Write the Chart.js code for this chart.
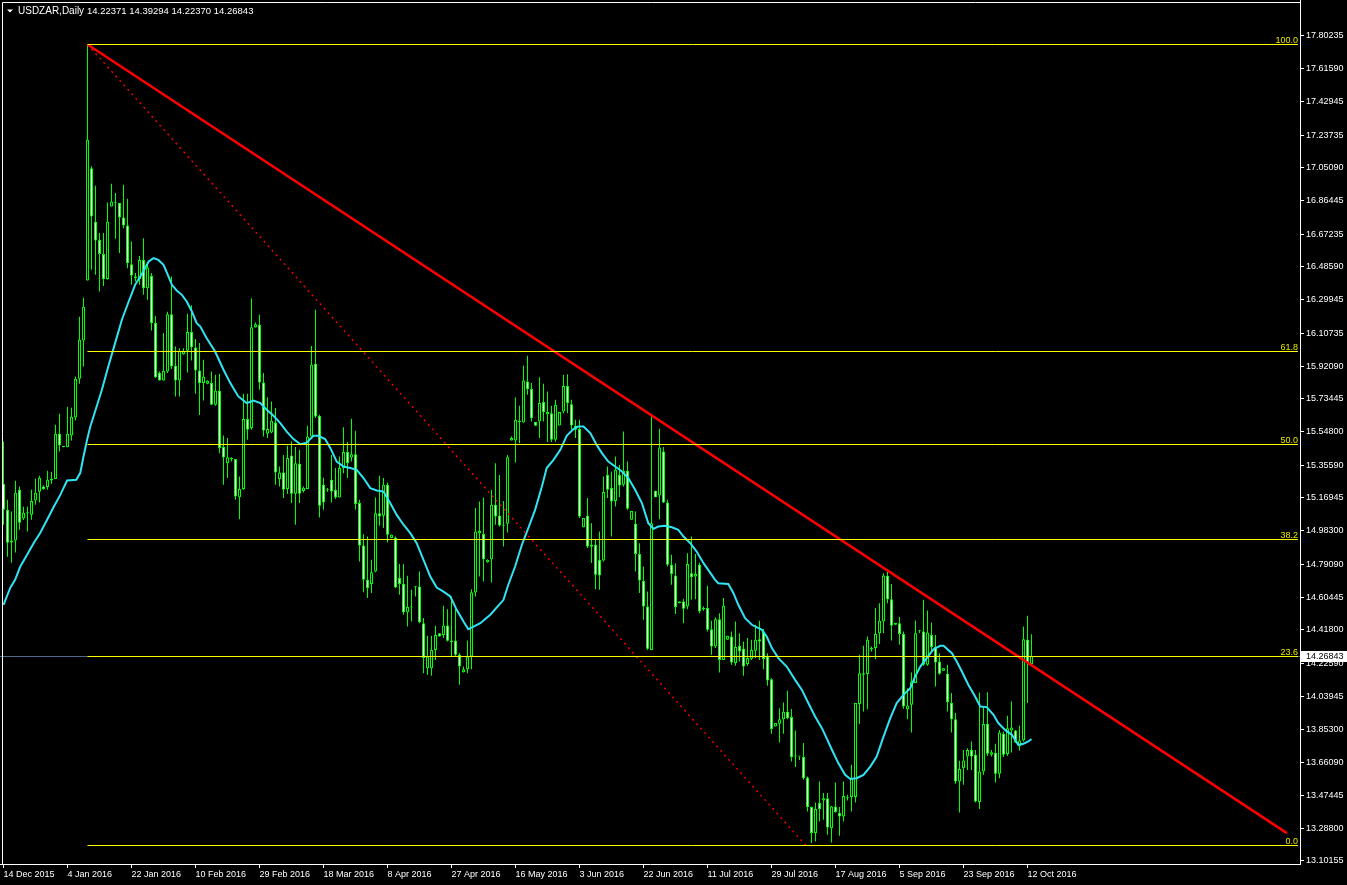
<!DOCTYPE html>
<html>
<head>
<meta charset="utf-8">
<title>USDZAR,Daily</title>
<script src="https://cdn.jsdelivr.net/npm/chart.js@4.4.1/dist/chart.umd.min.js"></script>
<style>
  html, body { margin: 0; padding: 0; background: #000; }
  #wrap { position: relative; width: 1347px; height: 885px; }
</style>
</head>
<body>
<div id="wrap"><canvas id="chart"></canvas></div>
<script>
// daily bars, one label every 16 bars
const tickBars = [0, 16, 32, 48, 64, 80, 96, 112, 128, 144, 160, 176, 192, 208, 224, 240, 256];
const tickDates = ['14 Dec 2015', '4 Jan 2016', '22 Jan 2016', '10 Feb 2016', '29 Feb 2016', '18 Mar 2016',
  '8 Apr 2016', '27 Apr 2016', '16 May 2016', '3 Jun 2016', '22 Jun 2016', '11 Jul 2016', '29 Jul 2016',
  '17 Aug 2016', '5 Sep 2016', '23 Sep 2016', '12 Oct 2016'];

const priceTicks = [17.80235, 17.61590, 17.42945, 17.23735, 17.05090, 16.86445, 16.67235, 16.48590, 16.29945,
  16.10735, 15.92090, 15.73445, 15.54800, 15.35590, 15.16945, 14.98300, 14.79090, 14.60445, 14.41800,
  14.22590, 14.03945, 13.85300, 13.66090, 13.47445, 13.28800, 13.10155];

const openP = [
  15.250,15.102,14.916,14.927,15.216,15.052,15.083,15.074,15.155,15.205,
  15.235,15.232,15.269,15.277,15.535,15.460,15.458,15.525,15.628,15.849,
  16.067,16.409,17.049,16.744,16.640,16.559,16.417,16.830,16.851,16.850,
  16.767,16.722,16.502,16.422,16.417,16.526,16.365,16.435,16.166,15.881,
  15.839,15.890,16.217,15.923,15.839,15.989,16.008,16.115,16.027,15.896,
  15.824,15.820,15.824,15.701,15.781,15.460,15.368,15.391,15.391,15.174,
  15.220,15.619,15.568,16.143,16.156,15.827,15.535,15.542,15.599,15.277,
  15.314,15.220,15.412,15.193,15.365,15.209,15.220,15.520,15.934,15.638,
  15.245,15.218,15.273,15.216,15.172,15.340,15.431,15.400,15.419,15.141,
  14.899,14.703,14.679,14.751,15.083,15.068,15.245,14.941,14.944,14.713,
  14.679,14.519,14.548,14.665,14.665,14.456,14.200,14.200,14.304,14.399,
  14.389,14.443,14.348,14.356,14.276,14.177,14.194,14.266,14.631,14.969,
  14.964,14.804,14.821,15.131,15.068,15.013,15.023,15.497,15.497,15.605,
  15.599,15.833,15.790,15.602,15.605,15.716,15.647,15.653,15.501,15.582,
  15.662,15.808,15.704,15.581,15.562,15.003,15.068,14.903,14.903,14.817,
  14.813,15.301,15.226,15.153,15.301,15.245,15.324,15.045,15.023,14.850,
  14.697,14.551,14.304,15.210,15.183,15.435,15.144,14.789,14.728,14.570,
  14.580,14.551,14.741,14.722,14.789,14.539,14.542,14.422,14.323,14.479,
  14.247,14.361,14.380,14.229,14.327,14.310,14.223,14.253,14.299,14.365,
  14.409,14.266,14.137,13.867,13.883,13.909,13.951,13.921,13.698,13.696,
  13.693,13.577,13.408,13.260,13.431,13.446,13.459,13.288,13.411,13.374,
  13.355,13.460,13.465,13.465,13.995,14.162,14.166,14.311,14.314,14.399,
  14.466,14.726,14.593,14.447,14.456,14.395,13.966,13.991,14.115,14.413,
  14.409,14.219,14.389,14.320,14.238,14.185,14.168,14.001,13.909,13.554,
  13.630,13.696,13.734,13.706,13.437,13.611,13.881,13.706,13.716,13.598,
  13.826,13.710,13.845,13.845,13.753,13.787,14.361,14.22371
];
const highP = [
  15.491,15.159,15.092,15.267,15.235,15.120,15.121,15.216,15.279,15.296,
  15.241,15.324,15.319,15.587,15.649,15.462,15.689,15.683,15.862,16.202,
  16.310,17.753,17.060,16.948,16.679,16.679,16.853,16.960,16.907,16.850,
  16.954,16.874,16.631,16.451,16.549,16.650,16.498,16.451,16.207,15.890,
  16.109,16.230,16.431,16.032,16.023,16.023,16.219,16.268,16.075,16.052,
  15.957,15.840,15.890,15.871,15.877,15.525,15.511,15.402,15.391,15.292,
  15.763,15.763,16.308,16.169,16.213,15.881,15.744,15.719,15.682,15.349,
  15.415,15.467,15.491,15.460,15.444,15.235,15.581,16.036,16.242,15.644,
  15.285,15.227,15.415,15.340,15.406,15.573,15.489,15.621,15.552,15.159,
  14.963,14.950,14.817,15.172,15.296,15.283,15.258,14.962,14.950,14.794,
  14.794,14.726,14.646,14.667,14.751,14.485,14.384,14.384,14.441,14.400,
  14.555,14.536,14.608,14.542,14.285,14.209,14.357,14.650,15.113,15.149,
  15.172,14.820,15.216,15.368,15.301,15.153,15.415,15.520,15.742,15.695,
  15.923,15.980,15.824,15.602,15.858,15.820,15.776,15.695,15.729,15.659,
  15.871,15.875,15.729,15.615,15.615,15.055,15.169,15.026,14.931,14.978,
  15.292,15.349,15.320,15.406,15.358,15.548,15.377,15.096,15.092,14.912,
  14.779,14.636,15.649,15.210,15.564,15.460,15.159,14.846,14.798,14.580,
  14.595,14.855,14.950,14.851,14.802,14.551,14.669,14.470,14.488,14.513,
  14.599,14.384,14.409,14.466,14.399,14.352,14.371,14.361,14.447,14.470,
  14.423,14.285,14.143,13.887,13.972,14.004,14.071,13.967,13.845,13.698,
  13.773,13.582,13.412,13.434,13.554,13.488,13.488,13.415,13.548,13.408,
  13.554,13.478,13.649,14.001,14.276,14.327,14.380,14.323,14.542,14.570,
  14.741,14.756,14.680,14.457,14.491,14.409,14.086,14.175,14.471,14.416,
  14.589,14.528,14.460,14.389,14.285,14.200,14.219,14.058,13.944,13.672,
  13.734,13.744,13.782,13.734,14.061,13.981,14.063,13.734,13.769,13.848,
  13.839,13.928,14.010,13.848,13.871,14.437,14.498,14.39294
];
const lowP = [
  15.017,14.834,14.800,14.859,14.988,15.044,14.979,15.045,15.131,15.144,
  15.216,15.216,15.250,15.277,15.435,15.458,15.458,15.497,15.611,15.820,
  15.919,16.409,16.470,16.441,16.346,16.378,16.413,16.830,16.646,16.565,
  16.707,16.479,16.384,16.403,16.384,16.327,16.299,16.124,15.853,15.839,
  15.839,15.881,15.904,15.748,15.748,15.985,15.884,15.953,15.763,15.643,
  15.725,15.818,15.701,15.695,15.425,15.245,15.283,15.377,15.159,15.049,
  15.216,15.501,15.558,16.139,15.786,15.520,15.511,15.539,15.245,15.235,
  15.169,15.193,15.141,15.017,15.141,15.201,15.220,15.505,15.625,15.058,
  15.102,15.205,15.144,15.163,15.172,15.311,15.283,15.377,15.102,14.808,
  14.633,14.599,14.628,14.747,15.011,14.998,14.916,14.940,14.656,14.618,
  14.504,14.437,14.466,14.608,14.456,14.171,14.162,14.156,14.247,14.380,
  14.371,14.352,14.266,14.266,14.105,14.175,14.171,14.194,14.608,14.722,
  14.694,14.800,14.688,15.017,15.007,14.893,14.973,15.497,15.372,15.482,
  15.599,15.757,15.605,15.581,15.511,15.605,15.488,15.488,15.490,15.582,
  15.653,15.653,15.558,15.511,15.055,15.003,14.884,14.799,14.650,14.646,
  14.808,15.169,14.950,15.121,15.174,15.235,15.102,15.045,14.751,14.628,
  14.475,14.304,14.304,15.174,15.049,15.141,14.779,14.675,14.509,14.570,
  14.456,14.536,14.589,14.593,14.513,14.527,14.409,14.276,14.314,14.175,
  14.247,14.361,14.219,14.213,14.238,14.156,14.213,14.247,14.257,14.247,
  14.194,14.099,13.826,13.867,13.776,13.826,13.909,13.668,13.636,13.677,
  13.564,13.383,13.203,13.212,13.326,13.336,13.250,13.206,13.377,13.245,
  13.326,13.446,13.383,13.434,13.881,13.953,13.966,14.295,14.251,14.338,
  14.399,14.570,14.357,14.447,14.333,13.968,13.909,13.833,14.115,14.400,
  14.213,14.213,14.289,14.095,14.162,14.185,13.953,13.833,13.541,13.377,
  13.535,13.620,13.620,13.434,13.397,13.592,13.700,13.696,13.548,13.573,
  13.693,13.700,13.719,13.773,13.730,13.782,14.001,14.22370
];
const closeP = [
  15.102,14.914,14.927,15.199,15.028,15.085,15.087,15.153,15.199,15.285,
  15.220,15.273,15.279,15.535,15.469,15.460,15.535,15.632,15.849,16.071,
  16.259,17.210,16.773,16.636,16.559,16.417,16.744,16.859,16.849,16.767,
  16.722,16.508,16.437,16.431,16.526,16.365,16.483,16.166,15.858,15.839,
  15.894,16.217,15.919,15.839,16.008,16.008,16.115,16.029,15.896,15.824,
  15.862,15.837,15.701,15.781,15.454,15.400,15.402,15.397,15.178,15.220,
  15.619,15.558,16.143,16.160,15.827,15.554,15.562,15.609,15.314,15.314,
  15.216,15.397,15.193,15.368,15.193,15.228,15.520,15.928,15.634,15.125,
  15.144,15.214,15.206,15.172,15.340,15.431,15.368,15.419,15.135,14.899,
  14.703,14.656,14.747,15.083,15.064,15.245,14.960,14.960,14.659,14.679,
  14.519,14.548,14.546,14.663,14.462,14.257,14.266,14.304,14.389,14.380,
  14.443,14.356,14.357,14.276,14.209,14.194,14.266,14.633,14.978,14.982,
  14.821,14.817,15.131,15.064,15.013,15.011,15.402,15.511,15.615,15.603,
  15.839,15.790,15.624,15.581,15.710,15.659,15.659,15.501,15.701,15.659,
  15.808,15.710,15.582,15.558,15.064,15.055,14.893,14.891,14.732,14.728,
  15.203,15.216,15.149,15.330,15.241,15.324,15.108,15.096,14.850,14.699,
  14.551,14.310,15.026,15.174,15.457,15.144,14.789,14.736,14.548,14.580,
  14.538,14.793,14.719,14.736,14.523,14.537,14.418,14.323,14.479,14.247,
  14.555,14.384,14.232,14.320,14.295,14.209,14.257,14.304,14.361,14.352,
  14.252,14.129,13.853,13.887,13.909,13.951,13.915,13.693,13.696,13.698,
  13.573,13.408,13.260,13.397,13.397,13.459,13.292,13.411,13.380,13.355,
  13.472,13.458,13.573,14.001,14.171,14.171,14.361,14.309,14.395,14.470,
  14.728,14.593,14.441,14.457,14.395,13.981,13.987,14.124,14.399,14.414,
  14.219,14.403,14.320,14.232,14.168,14.200,14.006,13.909,13.554,13.625,
  13.674,13.734,13.696,13.440,13.611,13.881,13.712,13.721,13.598,13.833,
  13.706,13.858,13.862,13.776,13.787,14.365,14.229,14.26843
];

// moving average (cyan) at these bar positions
const maBars = [0,1.7,2.9,4.2,5.9,7.6,9.2,10.9,12.6,14.2,15.9,18.2,19.2,20,20.9,21.7,22.5,24.6,26.2,27.9,
  29.6,31.3,32.9,34.6,36.3,37.5,38.7,40,40.9,42.1,43.3,44.6,45.8,47.1,48.3,49.2,50.8,52.9,55,56.7,
  58.7,60.8,62.5,64.2,65.8,67.5,69.2,70.8,72.5,74.2,75.8,77.5,78.7,80.4,81.7,83.3,85,86.7,88.3,90,
  91.7,93.3,95,96.7,98.3,100,101.7,103.3,105,106.7,108.3,110,111.7,113.3,115,116.2,117.5,119.2,121.7,125,
  126.2,127.9,129.6,131.2,132.9,134.6,135.8,137.5,139.2,140.8,142.5,143.7,145,146.7,148.3,149.6,151.2,152.9,154.6,156.2,
  157.9,159.6,161.2,162.5,163.7,165.4,167.1,168.7,170,171.7,173.3,175,176.7,177.9,178.7,181.2,182.5,183.7,185.4,187.1,
  189.6,190.8,192.1,193.7,195.8,197.9,199.6,201.2,202.9,204.6,205.4,207.1,208.7,210.4,211.7,213.3,215,216.7,218.3,220,
  221.7,223.3,225,226.7,227.9,229.2,230.8,232.5,234.2,235,237.1,238.3,239.6,241.2,242.9,244.2,245.8,247.5,248.7,250.4,
  252.1,253.7,255,256.2,257];
const maVals = [14.561,14.658,14.703,14.779,14.846,14.914,14.971,15.045,15.121,15.187,15.269,15.273,15.313,15.406,15.501,15.577,15.634,15.786,15.919,16.052,
  16.185,16.289,16.384,16.447,16.517,16.536,16.526,16.498,16.451,16.384,16.352,16.327,16.289,16.232,16.166,16.146,16.080,16.004,15.900,15.824,
  15.748,15.710,15.725,15.710,15.672,15.638,15.596,15.548,15.505,15.476,15.485,15.524,15.524,15.505,15.455,15.377,15.349,15.340,15.330,15.283,
  15.226,15.212,15.206,15.140,15.073,15.017,14.969,14.912,14.817,14.722,14.659,14.636,14.608,14.532,14.466,14.422,14.437,14.456,14.504,14.589,
  14.675,14.779,14.903,14.998,15.102,15.235,15.340,15.387,15.444,15.524,15.562,15.577,15.577,15.539,15.472,15.425,15.377,15.349,15.320,15.283,
  15.216,15.140,15.026,14.994,15.007,15.011,15.003,14.988,14.950,14.912,14.864,14.798,14.743,14.703,14.684,14.680,14.627,14.561,14.485,14.447,
  14.418,14.380,14.314,14.257,14.209,14.133,14.076,14.001,13.924,13.858,13.820,13.735,13.659,13.592,13.568,13.573,13.592,13.639,13.696,13.810,
  13.915,14.001,14.048,14.086,14.152,14.209,14.257,14.308,14.327,14.327,14.285,14.238,14.181,14.105,14.038,13.981,13.978,13.934,13.887,13.848,
  13.820,13.763,13.769,13.782,13.796];

// fibonacci retracement drawn from the January high
const fibLevels = [17.7534, 16.0041, 15.4742, 14.9329, 14.2662, 13.1893];
const fibNames = ['100.0', '61.8', '50.0', '38.2', '23.6', '0.0'];
const fibStart = 21;
const fibEnd = 323.6;

const trendBars = [21, 320.85];
const trendVals = [17.7534, 13.260];
const fibDiagBars = [21, 200.6];
const fibDiagVals = [17.7534, 13.1893];

const bidPrice = 14.26843;
const symbolText = 'USDZAR,Daily';
const quoteText = '14.22371 14.39294 14.22370 14.26843';

const FONT = '"Liberation Sans", Arial, sans-serif';

const bars = openP.map((o, i) => i);
const wickData = bars.map(i => ({ x: i, y: [lowP[i], highP[i]] }));
const bodyData = bars.map(i => ({ x: i, y: [openP[i], closeP[i]] }));
const bodyFill = bars.map(i => closeP[i] >= openP[i] ? '#000000' : '#ffffff');

function lineSet(xs, ys, color, width, dash){
  return {
    type: 'line',
    data: xs.map((x, i) => ({ x: x, y: ys[i] })),
    borderColor: color,
    borderWidth: width,
    borderDash: dash || [],
    pointRadius: 0,
    tension: 0,
    order: 0
  };
}

// horizontal lines snapped to whole pixels so they stay sharp
function hLine(ctx, x1, x2, y, color){
  const py = Math.round(y) + 0.5;
  ctx.strokeStyle = color;
  ctx.lineWidth = 1;
  ctx.beginPath();
  ctx.moveTo(x1, py);
  ctx.lineTo(x2, py);
  ctx.stroke();
}

const overlay = {
  id: 'overlay',
  beforeDatasetsDraw(chart){
    const { ctx, chartArea, scales } = chart;
    ctx.save();
    hLine(ctx, chartArea.left, chartArea.right, scales.y.getPixelForValue(bidPrice) - 0.5, '#4f6a8f');
    ctx.restore();
  },
  afterDatasetsDraw(chart){
    const { ctx, scales } = chart;
    const x1 = scales.x.getPixelForValue(fibStart);
    const x2 = scales.x.getPixelForValue(fibEnd);
    ctx.save();
    fibLevels.forEach(v => hLine(ctx, x1, x2, scales.y.getPixelForValue(v) - 0.5, '#ffff00'));
    ctx.restore();
  },
  afterDraw(chart){
    const { ctx, chartArea, scales } = chart;
    ctx.save();

    // frame
    ctx.strokeStyle = '#ffffff';
    ctx.lineWidth = 1;
    ctx.beginPath();
    ctx.moveTo(2.5, chartArea.bottom);
    ctx.lineTo(2.5, 2.5);
    ctx.lineTo(chartArea.right, 2.5);
    ctx.stroke();

    // fibo level names
    ctx.font = '9px ' + FONT;
    ctx.fillStyle = '#e6e600';
    ctx.textAlign = 'right';
    ctx.textBaseline = 'alphabetic';
    const fx = scales.x.getPixelForValue(fibEnd);
    fibLevels.forEach((v, i) => {
      ctx.fillText(fibNames[i], fx, Math.round(scales.y.getPixelForValue(v)) - 2);
    });

    // current price box
    const by = Math.round(scales.y.getPixelForValue(bidPrice));
    ctx.fillStyle = '#ffffff';
    ctx.fillRect(chartArea.right + 1, by - 5, 46, 11);
    ctx.fillStyle = '#000000';
    ctx.textAlign = 'left';
    ctx.textBaseline = 'middle';
    ctx.fillText(bidPrice.toFixed(5), chartArea.right + 6, by + 0.5);

    // title
    ctx.fillStyle = '#ffffff';
    ctx.beginPath();
    ctx.moveTo(7, 9.5);
    ctx.lineTo(13, 9.5);
    ctx.lineTo(10, 12.5);
    ctx.closePath();
    ctx.fill();
    ctx.font = '10px ' + FONT;
    ctx.textBaseline = 'alphabetic';
    ctx.fillText(symbolText, 18, 14);
    ctx.font = '9.5px ' + FONT;
    ctx.fillText(quoteText, 87, 14);

    ctx.restore();
  }
};

new Chart(document.getElementById('chart'), {
  type: 'bar',
  data: {
    datasets: [
      lineSet(trendBars, trendVals, '#ff0000', 2.5),
      lineSet(fibDiagBars, fibDiagVals, '#ff0000', 1.4, [2, 4]),
      lineSet(maBars, maVals, '#30e4f4', 2),
      {
        type: 'bar',
        data: bodyData,
        backgroundColor: bodyFill,
        borderColor: '#00ff00',
        borderWidth: 1,
        borderSkipped: false,
        barThickness: 3,
        minBarLength: 1,
        inflateAmount: 0,
        grouped: false,
        order: 1
      },
      {
        type: 'bar',
        data: wickData,
        backgroundColor: '#00ff00',
        borderWidth: 0,
        barThickness: 1,
        minBarLength: 1,
        inflateAmount: 0,
        grouped: false,
        order: 2
      }
    ]
  },
  options: {
    responsive: true,
    maintainAspectRatio: false,
    animation: false,
    devicePixelRatio: 1,
    events: [],
    layout: { padding: 0, autoPadding: false },
    plugins: { legend: { display: false }, tooltip: { enabled: false } },
    scales: {
      x: {
        type: 'linear',
        min: -0.875,
        max: 324.125,
        offset: false,
        afterBuildTicks: s => { s.ticks = tickBars.map(v => ({ value: v })); },
        afterFit: s => { s.height = 21; s.paddingLeft = 0; s.paddingRight = 0; },
        ticks: {
          autoSkip: false,
          maxRotation: 0,
          minRotation: 0,
          align: 'start',
          padding: 1,
          color: '#ffffff',
          font: { family: FONT, size: 9 },
          callback: (v, i) => tickDates[i]
        },
        grid: { display: true, offset: false, drawOnChartArea: false, tickLength: 4, color: '#ffffff' },
        border: { display: true, color: '#ffffff' }
      },
      y: {
        type: 'linear',
        position: 'right',
        min: 13.08392,
        max: 18.007,
        beginAtZero: false,
        afterBuildTicks: s => { s.ticks = priceTicks.map(v => ({ value: v })); },
        afterFit: s => { s.width = 47; s.paddingTop = 0; s.paddingBottom = 0; },
        ticks: {
          autoSkip: false,
          padding: 2,
          color: '#ffffff',
          font: { family: FONT, size: 9 },
          callback: v => v.toFixed(5)
        },
        grid: { display: true, drawOnChartArea: false, tickLength: 4, color: '#ffffff' },
        border: { display: true, color: '#ffffff' }
      }
    }
  },
  plugins: [overlay]
});
</script>
</body>
</html>
